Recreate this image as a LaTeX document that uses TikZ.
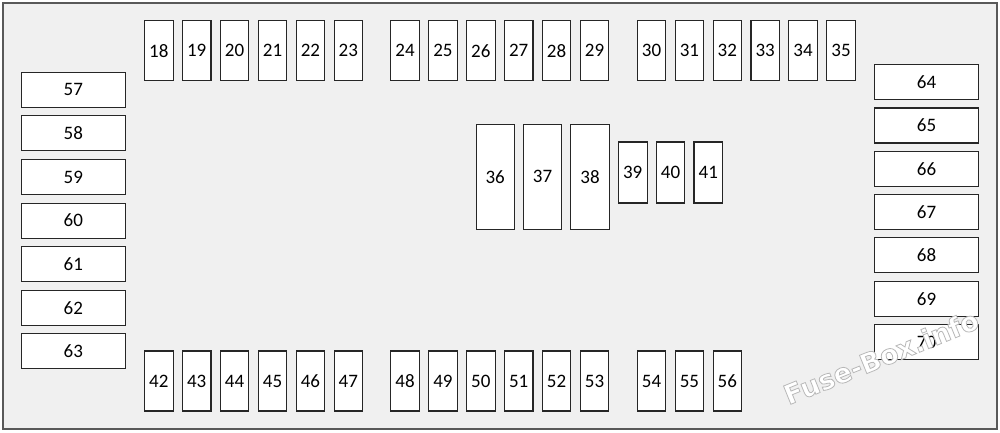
\documentclass[tikz,border=0pt]{standalone}
\usepackage{fontspec}
\setmainfont{Carlito}
\newfontfamily\wmfont{DejaVu Sans}
\begin{document}
\begin{tikzpicture}[x=1pt,y=-1pt,
  fuse/.style={draw=black!85, fill=white, line width=1.1pt, inner sep=0pt, font=\fontsize{19}{19}\selectfont},
  vfuse/.style={fuse, minimum width=28.5pt, minimum height=60pt},
  hfuse/.style={fuse, minimum width=104.5pt, minimum height=35pt},
  bigfuse/.style={fuse, minimum width=38.3pt, minimum height=104.7pt},
  midfuse/.style={fuse, minimum width=28.7pt, minimum height=61pt}]
\useasboundingbox (0,0) rectangle (1000,433);
\node[draw=black!65, fill=black!6, line width=1.3pt, minimum width=994pt, minimum height=426pt, inner sep=0pt] (frame) at (500,216) {};
% top row
\foreach \n [count=\i from 0] in {18,...,23} \node[vfuse] (f\n) at (158.8+37.9*\i,50.8) {\n};
\foreach \n [count=\i from 0] in {24,...,29} \node[vfuse] (f\n) at (405+37.9*\i,50.8) {\n};
\foreach \n [count=\i from 0] in {30,...,35} \node[vfuse] (f\n) at (651.5+37.9*\i,50.8) {\n};
% bottom row
\foreach \n [count=\i from 0] in {42,...,47} \node[vfuse] (f\n) at (158.8+37.9*\i,381) {\n};
\foreach \n [count=\i from 0] in {48,...,53} \node[vfuse] (f\n) at (405+37.9*\i,381) {\n};
\foreach \n [count=\i from 0] in {54,...,56} \node[vfuse] (f\n) at (651.5+37.9*\i,381) {\n};
% middle
\foreach \n [count=\i from 0] in {36,...,38} \node[bigfuse] (f\n) at (495.2+47.4*\i,176.7) {\n};
\foreach \n [count=\i from 0] in {39,...,41} \node[midfuse] (f\n) at (632.7+37.8*\i,172.5) {\n};
% left column
\foreach \n [count=\i from 0] in {57,...,63} \node[hfuse] (f\n) at (73.3,89.8+43.6*\i) {\n};
% right column
\foreach \n [count=\i from 0] in {64,...,70} \node[hfuse] (f\n) at (926.5,82.2+43.3*\i) {\n};
% watermark
\node[rotate=22, inner sep=0pt, font=\wmfont\bfseries\fontsize{27}{27}\selectfont] (wm) at (881,357)
  {\color{white}\special{pdf:literal direct 0.72 G 2 Tr 0.8 w}Fuse-Box.info\special{pdf:literal direct 0 Tr}};
\end{tikzpicture}
\end{document}
